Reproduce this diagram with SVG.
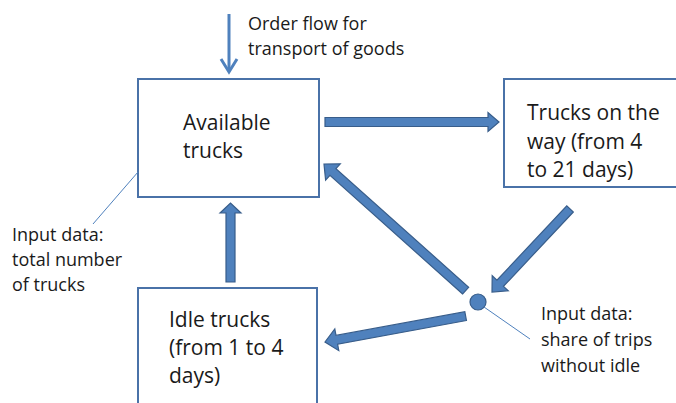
<svg xmlns="http://www.w3.org/2000/svg" width="676" height="403" viewBox="0 0 676 403">
<style>
.box{fill:#fff;stroke:#4A72A8;stroke-width:2}
.blk{fill:#4F81BD;stroke:#385D8A;stroke-width:1.2;stroke-linejoin:miter}
.thin{fill:none;stroke:#4F81BD;stroke-width:1}
.t{font-family:"Open Sans","Noto Sans",sans-serif;fill:#1a1a1a}
.big{font-size:21px}
.sm{font-size:18px}
</style>
<defs>
<path id="ar" d="M0,-4.5 H-12 V-11 L0,0 L-12,11 V4.5 Z"/>
</defs>
<rect width="676" height="403" fill="#fff"/>
<g id="available-trucks">
<rect class="box" x="138" y="79" width="181" height="118"/>
<text class="t big" x="183" y="130">Available</text>
<text class="t big" x="183" y="158">trucks</text>
</g>
<g id="trucks-on-the-way">
<rect class="box" x="504" y="79" width="180" height="108"/>
<text class="t big" x="527" y="120">Trucks on the</text>
<text class="t big" x="527" y="149">way (from 4</text>
<text class="t big" x="527" y="177">to 21 days)</text>
</g>
<g id="idle-trucks">
<rect class="box" x="138" y="288" width="179" height="125"/>
<text class="t big" x="169" y="327">Idle trucks</text>
<text class="t big" x="169" y="355">(from 1 to 4</text>
<text class="t big" x="169" y="383">days)</text>
</g>
<g id="split-point">
<circle cx="478" cy="302" r="8" fill="#4F81BD" stroke="#385D8A" stroke-width="1.2"/>
</g>
<g id="order-flow-label">
<text class="t sm" x="248" y="30">Order flow for</text>
<text class="t sm" x="248" y="55">transport of goods</text>
</g>
<g id="input-total-label">
<text class="t sm" x="12" y="241">Input data:</text>
<text class="t sm" x="12" y="266">total number</text>
<text class="t sm" x="12" y="291">of trucks</text>
</g>
<g id="input-share-label">
<text class="t sm" x="541" y="320">Input data:</text>
<text class="t sm" x="541" y="346">share of trips</text>
<text class="t sm" x="541" y="372">without idle</text>
</g>
<g id="connectors">
<line x1="229" y1="14" x2="229" y2="71" stroke="#4F81BD" stroke-width="3"/>
<polyline points="221,59 229,72 237,59" fill="none" stroke="#4F81BD" stroke-width="3" stroke-linejoin="miter"/>
<line class="thin" x1="138" y1="172" x2="93" y2="224"/>
<line class="thin" x1="484" y1="307" x2="530" y2="339"/>
<path class="blk" d="M325,117.5 H488 V112.5 L499,122 L488,131.5 V126.5 H325 Z"/>
<path class="blk" d="M226,282 V213 H220 L230.5,203 L241,213 H235 V282 Z"/>
<g transform="translate(492,292) rotate(133.2)"><path class="blk" d="M-114,-4.5 H-12 V-11 L0,0 L-12,11 V4.5 H-114 Z"/></g>
<g transform="translate(324,164) rotate(-138.2)"><path class="blk" d="M-190,-4.5 H-12 V-11 L0,0 L-12,11 V4.5 H-190 Z"/></g>
<g transform="translate(325,342) rotate(169.55)"><path class="blk" d="M-143,-4.5 H-12 V-11 L0,0 L-12,11 V4.5 H-143 Z"/></g>
</g>
</svg>
